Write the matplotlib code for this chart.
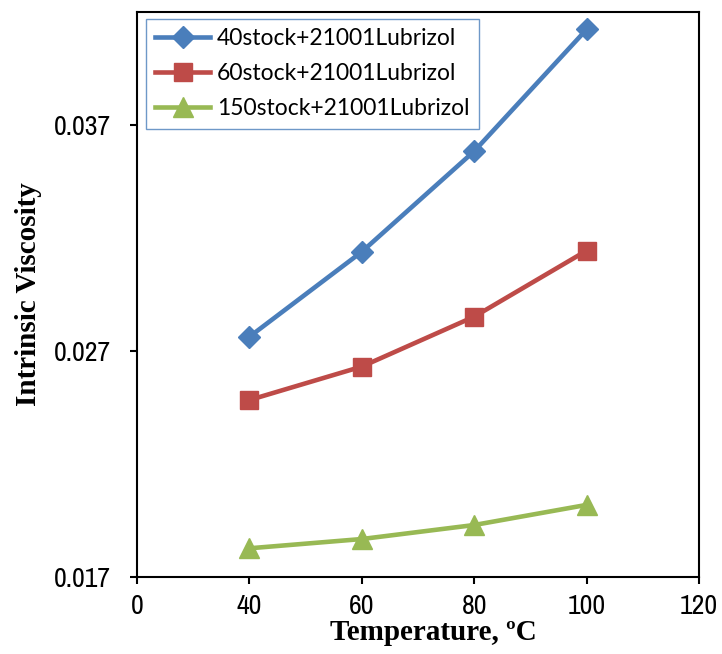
import matplotlib
matplotlib.use("Agg")
import matplotlib.pyplot as plt
from matplotlib import font_manager as fm
import numpy as np

# data
temps = [40, 60, 80, 100]
visc_40 = [0.02763, 0.03139, 0.03584, 0.04123]
visc_60 = [0.02483, 0.02631, 0.02852, 0.03144]
visc_150 = [0.01827, 0.01868, 0.01930, 0.02019]
labels = ["40stock+21001Lubrizol", "60stock+21001Lubrizol", "150stock+21001Lubrizol"]
xticks = [0, 40, 60, 80, 100, 120]
yticks = [0.017, 0.027, 0.037]


# the original axis puts 0 and 40 one tick apart, then steps of 20
def fwd(x):
    x = np.asarray(x, dtype=float)
    return np.where(x < 40, x / 40.0, (x - 20.0) / 20.0)


def inv(y):
    y = np.asarray(y, dtype=float)
    return np.where(y < 1, y * 40.0, y * 20.0 + 20.0)


# look for a narrow sans (Arial Narrow look-alike)
narrow = None
for f in fm.fontManager.ttflist:
    if "Narrow" in f.name and f.weight in (400, "normal", "regular") and f.style == "normal":
        narrow = f.fname
        break
if narrow:
    tick_fp = fm.FontProperties(fname=narrow, size=20)
else:
    tick_fp = fm.FontProperties(family="Liberation Sans", size=17)

fig = plt.figure(figsize=(7.22, 6.54), dpi=100)
ax = fig.add_axes([137 / 722, 1 - 577 / 654, 562 / 722, 565 / 654])
ax.set_xscale("function", functions=(fwd, inv))

ax.plot(temps, visc_40, color="#4A7EBB", lw=3.3, marker="D", ms=11, label=labels[0])
ax.plot(temps, visc_60, color="#BE4B48", lw=3.3, marker="s", ms=13.5, label=labels[1])
ax.plot(temps, visc_150, color="#98B954", lw=3.3, marker="^", ms=14, label=labels[2])

ax.set_xlim(0, 120)
ax.set_ylim(0.017, 0.042)
ax.set_xticks(xticks)
ax.set_xticklabels([str(v) for v in xticks])
ax.minorticks_off()
ax.set_yticks(yticks)
ax.set_yticklabels(["%.3f" % v for v in yticks])

for t in ax.get_xticklabels() + ax.get_yticklabels():
    t.set_fontproperties(tick_fp)

ax.tick_params(axis="x", direction="out", length=5, width=1.5, pad=7)
ax.tick_params(axis="y", direction="out", length=5, width=1.5, pad=14)
for s in ax.spines.values():
    s.set_linewidth(1.5)

ax.set_xlabel("Temperature, ºC", family="Liberation Serif",
              fontweight="bold", fontsize=21)
ax.xaxis.set_label_coords(0.527, -0.075)
ax.set_ylabel("Intrinsic Viscosity", family="Liberation Serif",
              fontweight="bold", fontsize=21)
ax.yaxis.set_label_coords(-0.169, 0.5)

leg = ax.legend(loc="upper left", prop={"family": "Lato", "size": 16.5},
                frameon=True, fancybox=False, bbox_to_anchor=(0.016, 0.988),
                borderaxespad=0, handlelength=2.4, handletextpad=0.3,
                labelspacing=0.62, borderpad=0.4)
leg.get_frame().set_edgecolor("#4A7EBB")
leg.get_frame().set_linewidth(1.0)

fig.savefig("out.png", dpi=100)
